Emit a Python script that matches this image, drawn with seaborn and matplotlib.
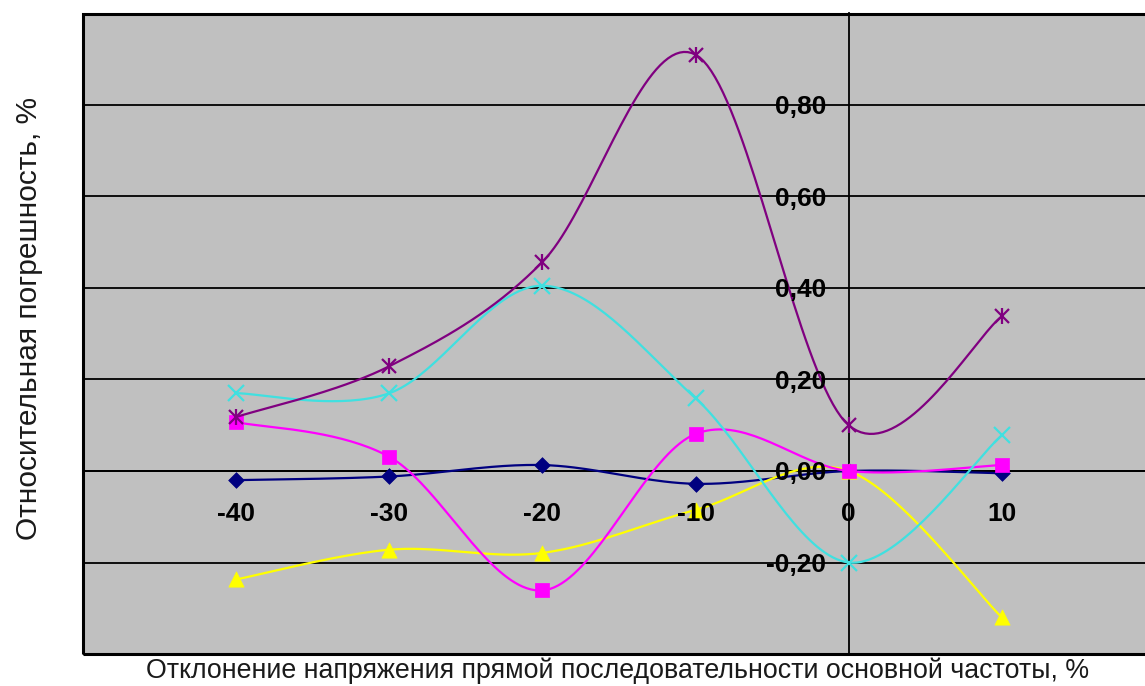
import numpy as np
import pandas as pd
import matplotlib
matplotlib.use("Agg")
import matplotlib.pyplot as plt
from matplotlib.patches import Rectangle
from matplotlib.ticker import FuncFormatter
import seaborn as sns

# Deviation of the positive-sequence voltage at fundamental frequency, %
deviation = [-40, -30, -20, -10, 0, 10]

# Relative error, % (one series per measured quantity)
series_navy = [-0.02, -0.012, 0.013, -0.028, 0.0, -0.005]
series_magenta = [0.107, 0.031, -0.261, 0.081, 0.0, 0.013]
series_yellow = [-0.237, -0.172, -0.179, -0.085, 0.0, -0.32]
series_cyan = [0.17, 0.17, 0.405, 0.159, -0.20, 0.078]
series_purple = [0.118, 0.229, 0.457, 0.91, 0.10, 0.338]

y_ticks = [-0.2, 0.0, 0.2, 0.4, 0.6, 0.8]
x_ticks = [-40, -30, -20, -10, 0, 10]


def smooth(xs, ys, n=40):
    """Catmull-Rom style Bezier smoothing, as used by spreadsheet 'smoothed line' charts."""
    pts = np.column_stack([xs, ys]).astype(float)
    ext = np.vstack([pts[0], pts, pts[-1]])
    out = []
    t = np.linspace(0, 1, n)[:, None]
    for i in range(1, len(ext) - 2):
        p0, p1, p2, p3 = ext[i - 1], ext[i], ext[i + 1], ext[i + 2]
        c1 = p1 + (p2 - p0) / 6.0
        c2 = p2 - (p3 - p1) / 6.0
        seg = ((1 - t) ** 3) * p1 + 3 * ((1 - t) ** 2) * t * c1 + 3 * (1 - t) * t ** 2 * c2 + t ** 3 * p2
        out.append(seg if i == 1 else seg[1:])
    arr = np.vstack(out)
    return arr[:, 0], arr[:, 1]


sns.set_theme(style="white")
plt.rcParams["font.family"] = ["Liberation Sans", "DejaVu Sans"]

fig = plt.figure(figsize=(11.45, 6.86), dpi=100)
W, H = 1145, 686
left_px, right_px, top_px, bottom_px = 83, 1155, 13.5, 654
ax = fig.add_axes([left_px / W, 1 - bottom_px / H, (right_px - left_px) / W, (bottom_px - top_px) / H])
ax.set_facecolor("#C0C0C0")
fig.patch.set_facecolor("white")

ax.set_xlim(-50, 20)
ax.set_ylim(-0.4, 1.0)

# horizontal gridlines
for yv in y_ticks + [1.0]:
    ax.axhline(yv, color="black", lw=1.3, zorder=1)

styles = [
    (series_navy, "#000080", "D", 8),
    (series_yellow, "#FFFF00", "^", 11),
    (series_magenta, "#FF00FF", "s", 10),
    (series_cyan, "#40E0E0", "x", 11),
    (series_purple, "#800080", "x", 10),
]

for k, (vals, color, marker, ms) in enumerate(styles):
    z = 2 + 0.01 * k
    sx, sy = smooth(deviation, vals)
    df = pd.DataFrame({"x": sx, "y": sy})
    sns.lineplot(data=df, x="x", y="y", ax=ax, color=color, lw=1.6, sort=False,
                 estimator=None, zorder=z)
    pts = pd.DataFrame({"x": deviation, "y": vals})
    if marker == "x":
        ax.plot(pts["x"], pts["y"], ls="none", marker="x", ms=ms, mew=1.6,
                color=color, zorder=z + 0.005)
        if color == "#800080":
            ax.plot(pts["x"], pts["y"], ls="none", marker="|", ms=ms + 2, mew=1.6,
                    color=color, zorder=z + 0.005)
    else:
        sns.scatterplot(data=pts, x="x", y="y", ax=ax, marker=marker, s=ms ** 2,
                        color=color, edgecolor=color, linewidth=0.5, zorder=z + 0.005)

# axes crossing at the origin
for s in ["top", "right"]:
    ax.spines[s].set_visible(False)
ax.spines["left"].set_position(("data", 0))
ax.spines["bottom"].set_position(("data", 0))
for s in ["left", "bottom"]:
    ax.spines[s].set_color("black")
    ax.spines[s].set_linewidth(1.3)
    ax.spines[s].set_zorder(1.5)

ax.set_xticks(x_ticks)
ax.set_yticks(y_ticks)
ax.xaxis.set_major_formatter(FuncFormatter(lambda v, p: f"{v:.0f}"))
ax.yaxis.set_major_formatter(FuncFormatter(lambda v, p: f"{v:.2f}".replace(".", ",")))
ax.tick_params(axis="x", direction="out", length=5, width=1.2, color="black", pad=17,
               labelsize=19)
ax.tick_params(axis="y", direction="out", length=5, width=1.2, color="black", pad=11,
               labelsize=19)
for lab in ax.get_xticklabels() + ax.get_yticklabels():
    lab.set_fontweight("bold")
    lab.set_color("black")
ax.set_xlabel("")
ax.set_ylabel("")
ax.set_axisbelow(False)
ax.xaxis.set_zorder(3)
ax.yaxis.set_zorder(3)

# plot-area border
ax.add_patch(Rectangle((0, 0), 1, 1, transform=ax.transAxes, fill=False,
                       edgecolor="black", lw=2.2, zorder=4, clip_on=False))

fig.text(618 / W, 1 - 671 / H, "Отклонение напряжения прямой последовательности основной частоты, %",
         ha="center", va="center", fontsize=19.3, color="#1a1a1a")
fig.text(29 / W, 1 - 318 / H, "Относительная погрешность, %", rotation=90,
         ha="center", va="center", fontsize=21.5, color="#1a1a1a")

fig.savefig("out.png", dpi=100)
